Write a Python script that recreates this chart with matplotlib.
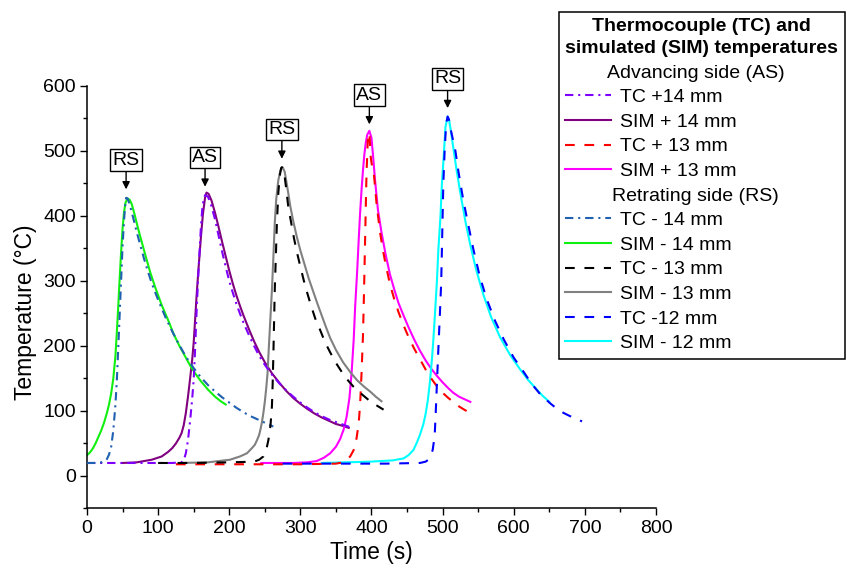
import matplotlib
matplotlib.use('Agg')
import matplotlib.pyplot as plt
from matplotlib.lines import Line2D
from matplotlib.ticker import MultipleLocator

plt.rcParams['font.family'] = ['Liberation Sans', 'DejaVu Sans']
plt.rcParams['lines.scale_dashes'] = False

# ---------------- data ----------------
# Advancing side
tc_p14_x = [0, 40, 80, 120, 133, 136, 139, 142, 145, 148, 150, 152, 154, 156, 158, 160, 162, 164, 166, 170, 175, 180, 185, 190, 195, 200, 205, 210, 215, 220, 228, 235, 242, 250, 260, 270, 280, 290, 300, 310, 320, 330, 340, 350, 360, 370]
tc_p14_y = [20, 20, 20, 20, 21, 24, 35, 55, 85, 120, 148, 195, 250, 298, 340, 380, 410, 426, 432, 430, 415, 395, 370, 345, 322, 300, 282, 265, 250, 236, 216, 200, 185, 171, 156, 143, 132, 122, 113, 105, 98, 92, 87, 83, 79, 75]

sim_p14_x = [50, 70, 91, 105, 114, 120, 125, 130, 133, 136, 139, 142, 145, 148, 150, 152, 154, 157, 160, 163, 166, 168, 171, 175, 180, 185, 190, 195, 200, 205, 210, 215, 220, 228, 235, 242, 250, 260, 270, 280, 290, 300, 310, 320, 330, 340, 350, 360, 368]
sim_p14_y = [20, 21, 25, 30, 37, 43, 50, 59, 66, 78, 97, 122, 150, 180, 205, 240, 276, 322, 365, 403, 428, 436, 434, 424, 405, 383, 360, 338, 316, 296, 278, 262, 247, 225, 207, 191, 175, 158, 144, 131, 120, 111, 103, 96, 90, 85, 80, 77, 74]

tc_p13_x = [125, 200, 300, 350, 360, 365, 370, 375, 379, 382, 384, 386, 388, 389, 390, 391, 392, 393, 395, 397, 399, 401, 403, 405, 407, 410, 412, 416, 420, 426, 432, 438, 445, 452, 460, 468, 476, 484, 492, 500, 508, 515, 523, 532, 541]
tc_p13_y = [18, 18, 18, 19, 21, 25, 30, 40, 58, 81, 110, 158, 215, 260, 310, 363, 415, 466, 522, 528, 490, 475, 468, 445, 420, 393, 375, 348, 325, 295, 272, 252, 232, 214, 196, 180, 164, 150, 138, 128, 120, 114, 107, 101, 96]

sim_p13_x = [245, 290, 310, 323, 333, 342, 350, 356, 361, 365, 369, 372, 375, 377, 380, 382, 384, 386, 388, 390, 392, 394, 397, 400, 402, 405, 409, 414, 420, 426, 432, 438, 445, 452, 460, 468, 476, 484, 492, 500, 508, 515, 523, 531, 539]
sim_p13_y = [20, 20, 21, 23, 28, 35, 45, 57, 72, 91, 120, 158, 210, 260, 318, 363, 405, 440, 470, 495, 513, 525, 531, 520, 495, 455, 410, 375, 340, 310, 287, 266, 247, 229, 210, 193, 178, 165, 154, 144, 135, 128, 122, 118, 114]

# Retreating side
tc_m14_x = [0, 10, 20, 25, 28, 31, 34, 37, 40, 42, 44, 46, 48, 50, 52, 54, 55, 57, 60, 65, 70, 75, 80, 85, 90, 95, 100, 110, 120, 130, 140, 150, 160, 170, 180, 190, 200, 210, 220, 230, 240, 250, 262]
tc_m14_y = [20, 20, 21, 23, 26, 33, 45, 70, 110, 148, 198, 250, 302, 353, 392, 420, 428, 427, 418, 397, 375, 355, 335, 317, 300, 285, 271, 245, 222, 201, 182, 166, 152, 140, 130, 121, 113, 105, 98, 92, 87, 82, 76]

sim_m14_x = [0, 4, 8, 12, 16, 20, 24, 28, 31, 34, 37, 40, 42, 44, 46, 48, 50, 52, 54, 57, 60, 63, 67, 72, 77, 82, 89, 96, 105, 114, 122, 130, 138, 145, 152, 160, 170, 180, 188, 195]
sim_m14_y = [32, 36, 42, 50, 60, 70, 82, 97, 110, 127, 150, 185, 222, 262, 305, 345, 380, 405, 420, 427, 425, 418, 402, 380, 360, 340, 313, 290, 263, 240, 218, 200, 184, 170, 158, 146, 133, 122, 115, 110]

tc_m13_x = [100, 150, 200, 235, 242, 248, 252, 255, 258, 260, 261, 262, 263, 264, 265, 267, 269, 271, 273, 274, 276, 278, 280, 283, 287, 291, 295, 300, 305, 309, 315, 321, 328, 335, 342, 350, 360, 367, 375, 385, 398, 408, 417]
tc_m13_y = [20, 20, 21, 22, 25, 30, 40, 55, 78, 107, 140, 184, 235, 286, 320, 389, 435, 462, 474, 475, 470, 460, 443, 414, 390, 366, 345, 322, 300, 284, 262, 242, 224, 205, 190, 174, 157, 147, 137, 127, 115, 108, 102]

sim_m13_x = [130, 170, 201, 215, 225, 232, 236, 239, 242, 244, 246, 248, 250, 252, 254, 255, 257, 260, 262, 264, 266, 269, 272, 275, 278, 280, 283, 286, 290, 295, 300, 306, 312, 318, 324, 330, 336, 342, 350, 360, 370, 380, 390, 398, 406, 414]
sim_m13_y = [20, 21, 25, 30, 35, 43, 48, 55, 63, 72, 83, 97, 114, 135, 160, 184, 225, 286, 335, 389, 425, 455, 470, 475, 468, 455, 435, 414, 392, 368, 347, 325, 303, 284, 265, 247, 229, 212, 194, 175, 160, 147, 137, 130, 122, 115]

tc_m12_x = [275, 350, 420, 468, 476, 480, 483, 486, 488, 489, 490, 491, 492, 494, 496, 498, 499, 500, 501, 503, 505, 507, 509, 512, 515, 518, 522, 525, 529, 535, 543, 552, 562, 574, 586, 600, 614, 625, 637, 651, 660, 670, 683, 696]
tc_m12_y = [19, 19, 19, 20, 22, 25, 30, 40, 55, 66, 90, 115, 143, 195, 245, 298, 348, 400, 450, 505, 542, 553, 548, 530, 515, 500, 470, 450, 425, 392, 350, 308, 272, 238, 210, 182, 160, 142, 126, 112, 104, 97, 90, 84]

sim_m12_x = [330, 398, 430, 445, 452, 459, 464, 468, 473, 476, 479, 482, 485, 487, 489, 492, 494, 497, 499, 502, 504, 507, 509, 511, 515, 520, 525, 532, 539, 547, 557, 568, 581, 595, 609, 620, 630, 640, 650]
sim_m12_y = [20, 22, 24, 27, 32, 40, 52, 63, 80, 95, 115, 143, 180, 210, 245, 300, 348, 400, 450, 500, 537, 553, 548, 535, 505, 468, 435, 392, 355, 318, 280, 245, 213, 186, 164, 148, 136, 124, 114]

labels = ["TC +14 mm", "SIM + 14 mm", "TC + 13 mm", "SIM + 13 mm",
          "TC - 14 mm", "SIM - 14 mm", "TC - 13 mm", "SIM - 13 mm",
          "TC -12 mm", "SIM - 12 mm"]
headers = ["Advancing side (AS)", "Retrating side (RS)"]
peak_labels = ["RS", "AS", "RS", "AS", "RS"]

# ---------------- figure ----------------
fig = plt.figure(figsize=(8.47, 5.71), dpi=100)
ax = fig.add_axes([0.1027, 0.1095, 0.6718, 0.7399])

dashdot = (0, (6, 3.5, 1.5, 3.5))
dashed = (0, (7, 7))
lw = 1.5

series = [
    (tc_p14_x, tc_p14_y, '#8000ff', dashdot, 3),
    (sim_p14_x, sim_p14_y, '#800080', '-', 2),
    (tc_p13_x, tc_p13_y, '#ff0000', dashed, 3),
    (sim_p13_x, sim_p13_y, '#ff00ff', '-', 2),
    (tc_m14_x, tc_m14_y, '#2060b0', dashdot, 3),
    (sim_m14_x, sim_m14_y, '#10f010', '-', 2),
    (tc_m13_x, tc_m13_y, '#000000', dashed, 3),
    (sim_m13_x, sim_m13_y, '#808080', '-', 2),
    (tc_m12_x, tc_m12_y, '#0000ff', dashed, 3),
    (sim_m12_x, sim_m12_y, '#00ffff', '-', 2),
]
handles = []
for (xs, ys, c, ls, z), lab in zip(series, labels):
    h, = ax.plot(xs, ys, color=c, linestyle=ls, lw=lw, zorder=z, label=lab)
    handles.append(h)

# peak annotations (TC peaks in time order)
peak_series = [(tc_m14_x, tc_m14_y), (tc_p14_x, tc_p14_y), (tc_m13_x, tc_m13_y),
               (tc_p13_x, tc_p13_y), (tc_m12_x, tc_m12_y)]
for (xs, ys), txt in zip(peak_series, peak_labels):
    i = max(range(len(ys)), key=lambda k: ys[k])
    px, py = xs[i], ys[i]
    ax.annotate(txt, xy=(px, py + 13), xytext=(px, py + 58),
                ha='center', va='center', fontsize=14,
                bbox=dict(boxstyle='square,pad=0.12', fc='white', ec='black', lw=1.0),
                arrowprops=dict(arrowstyle='-|>', color='black', lw=1.0,
                                mutation_scale=11, shrinkA=0, shrinkB=0),
                annotation_clip=False, zorder=6)

# axes styling
ax.set_xlim(0, 800)
ax.set_ylim(-50, 600)
ax.xaxis.set_major_locator(MultipleLocator(100))
ax.xaxis.set_minor_locator(MultipleLocator(50))
ax.yaxis.set_major_locator(MultipleLocator(100))
ax.yaxis.set_minor_locator(MultipleLocator(50))
ax.spines['top'].set_visible(False)
ax.spines['right'].set_visible(False)
for s in ('left', 'bottom'):
    ax.spines[s].set_linewidth(1.1)
ax.tick_params(which='major', direction='out', length=5, width=1.0, labelsize=14, pad=3)
ax.tick_params(which='minor', direction='out', length=3, width=1.0)
ax.set_xlabel('Time (s)', fontsize=16.5, labelpad=3)
ax.set_ylabel('Temperature (°C)', fontsize=16.5)
ax.yaxis.set_label_coords(-0.088, 0.465)

# legend
blank = Line2D([], [], color='none')
leg_handles = [blank] + handles[:4] + [blank] + handles[4:]
leg_labels = [headers[0]] + labels[:4] + [headers[1]] + labels[4:]
leg = ax.legend(leg_handles, leg_labels, loc='upper left',
                bbox_to_anchor=(559 / 847, 1 - 12 / 571), bbox_transform=fig.transFigure,
                borderaxespad=0, frameon=True, fancybox=False, framealpha=1,
                edgecolor='black', fontsize=14, handlelength=2.35, handletextpad=0.45,
                borderpad=0.33, labelspacing=0.36, alignment='left',
                title="Thermocouple (TC) and\nsimulated (SIM) temperatures",
                title_fontproperties={'weight': 'bold', 'size': 14})
leg.get_title().set_linespacing(1.35)
leg.get_title().set_multialignment('center')
leg.get_frame().set_linewidth(1.1)
leg.set_zorder(10)

# center the two header rows inside the legend box
fig.canvas.draw()
renderer = fig.canvas.get_renderer()
legbox = leg.get_window_extent(renderer)
cx = (legbox.x0 + legbox.x1) / 2 - 6
for t in leg.get_texts():
    if t.get_text() in headers:
        bb = t.get_window_extent(renderer)
        cy = (bb.y0 + bb.y1) / 2
        t.set_visible(False)
        fx, fy = fig.transFigure.inverted().transform((cx, cy))
        fig.text(fx, fy, t.get_text(), ha='center', va='center', fontsize=14, zorder=11)

fig.savefig('out.png', dpi=100)
